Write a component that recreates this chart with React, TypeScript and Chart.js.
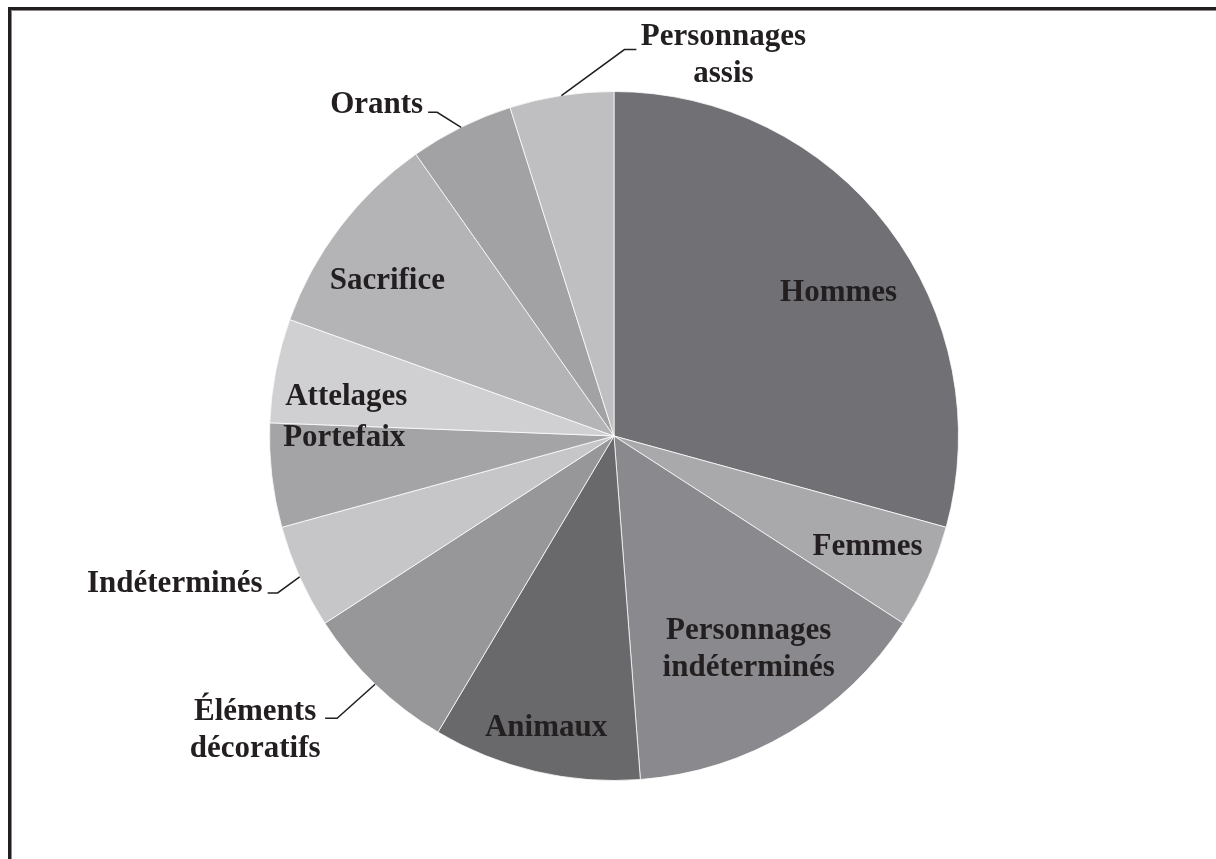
import React, { useEffect, useRef } from "react";
import { Chart, registerables } from "chart.js";

Chart.register(...registerables);

const categories = [
  "Hommes",
  "Femmes",
  "Personnages indéterminés",
  "Animaux",
  "Éléments décoratifs",
  "Indéterminés",
  "Portefaix",
  "Attelages",
  "Sacrifice",
  "Orants",
  "Personnages assis",
];

const values = [12, 2, 6, 4, 3, 2, 2, 2, 4, 2, 2];

const labelLines = [
  ["Hommes"],
  ["Femmes"],
  ["Personnages", "indéterminés"],
  ["Animaux"],
  ["Éléments", "décoratifs"],
  ["Indéterminés"],
  ["Portefaix"],
  ["Attelages"],
  ["Sacrifice"],
  ["Orants"],
  ["Personnages", "assis"],
];

const sliceColors = [
  "#707075",
  "#a9a9ac",
  "#8a8a8e",
  "#69696c",
  "#97979a",
  "#c6c6c8",
  "#a4a4a7",
  "#d0d0d2",
  "#b4b4b7",
  "#a2a2a5",
  "#bfbfc2",
];

// Label placement styles (inside: offset from pie centre in radius units; outside: leader line)
type LabelStyle =
  | { kind: "inside"; fx: number; fy: number }
  | { kind: "outside"; elbow: [number, number]; run: number; align: "left" | "right" | "center"; tx: number; ty: number };

const labelStyles: LabelStyle[] = [
  { kind: "inside", fx: 0.652, fy: -0.391 },
  { kind: "inside", fx: 0.736, fy: 0.345 },
  { kind: "inside", fx: 0.391, fy: 0.588 },
  { kind: "inside", fx: -0.197, fy: 0.87 },
  { kind: "outside", elbow: [-38, 34], run: -12, align: "center", tx: -70, ty: 2 },
  { kind: "outside", elbow: [-22, 16], run: -10, align: "right", tx: -5, ty: -1 },
  { kind: "inside", fx: -0.783, fy: 0.029 },
  { kind: "inside", fx: -0.777, fy: -0.09 },
  { kind: "inside", fx: -0.658, fy: -0.426 },
  { kind: "outside", elbow: [-24, -15], run: -9, align: "right", tx: -5, ty: 1 },
  { kind: "outside", elbow: [63, -46], run: 12, align: "center", tx: 87, ty: -5 },
];

const TEXT_COLOR = "#231f20";
const FONT = 'bold 31px "Liberation Serif", "Times New Roman", serif';
const LINE_H = 37;

const labelPlugin = {
  id: "pieLabels",
  afterDatasetsDraw(chart: any) {
    const ctx = chart.ctx as CanvasRenderingContext2D;
    const meta = chart.getDatasetMeta(0);
    ctx.save();
    ctx.font = FONT;
    ctx.fillStyle = TEXT_COLOR;
    ctx.strokeStyle = TEXT_COLOR;
    ctx.lineWidth = 1.5;
    ctx.textBaseline = "alphabetic";
    meta.data.forEach((arc: any, i: number) => {
      const p = arc.getProps(["x", "y", "startAngle", "endAngle", "outerRadius"], true);
      const st = labelStyles[i];
      const lines = labelLines[i];
      let bx: number, by: number;
      if (st.kind === "inside") {
        ctx.textAlign = "center";
        bx = p.x + st.fx * p.outerRadius;
        by = p.y + st.fy * p.outerRadius;
      } else {
        const mid = (p.startAngle + p.endAngle) / 2;
        const ex = p.x + Math.cos(mid) * p.outerRadius;
        const ey = p.y + Math.sin(mid) * p.outerRadius;
        const kx = ex + st.elbow[0];
        const ky = ey + st.elbow[1];
        const lx = kx + st.run;
        ctx.beginPath();
        ctx.moveTo(ex, ey);
        ctx.lineTo(kx, ky);
        ctx.lineTo(lx, ky);
        ctx.stroke();
        ctx.textAlign = st.align;
        bx = lx + st.tx;
        by = ky + st.ty;
      }
      lines.forEach((t, j) => ctx.fillText(t, bx, by + j * LINE_H));
    });
    ctx.restore();
  },
};

export default function App() {
  const canvasRef = useRef<HTMLCanvasElement | null>(null);

  useEffect(() => {
    if (!canvasRef.current) return;
    const chart = new Chart(canvasRef.current, {
      type: "pie",
      data: {
        labels: categories,
        datasets: [
          {
            data: values,
            backgroundColor: sliceColors,
            borderColor: "rgba(255,255,255,0.75)",
            borderWidth: 1,
            hoverOffset: 0,
            offset: 0,
          },
        ],
      },
      options: {
        responsive: false,
        animation: false,
        layout: { padding: { left: 269, right: 257, top: 91, bottom: 78 } },
        plugins: {
          legend: { display: false },
          tooltip: { enabled: false },
        },
        events: [],
      },
      plugins: [labelPlugin],
    });
    return () => chart.destroy();
  }, []);

  return (
    <div style={{ position: "relative", width: 1216, height: 859, overflow: "hidden", background: "#fff" }}>
      <style>{"html,body{margin:0;padding:0;overflow:hidden;background:#fff}"}</style>
      <div
        style={{
          position: "absolute",
          left: 8,
          top: 7,
          width: 1300,
          height: 1000,
          borderLeft: "3px solid #231f20",
          borderTop: "3px solid #231f20",
          boxShadow: "inset 1px 1px 0 #8a8a8a",
        }}
      />
      <canvas
        ref={canvasRef}
        width={1216}
        height={859}
        style={{ position: "absolute", left: 0, top: 0, width: 1216, height: 859 }}
      />
    </div>
  );
}
